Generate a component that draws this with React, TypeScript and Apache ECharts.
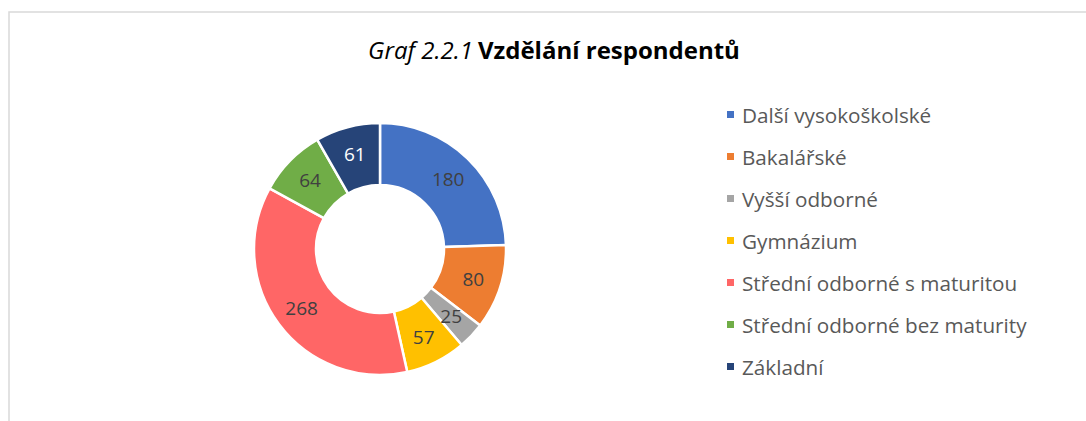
import React, { useEffect, useRef } from "react";
import * as echarts from "echarts";

const categories = [
  "Další vysokoškolské",
  "Bakalářské",
  "Vyšší odborné",
  "Gymnázium",
  "Střední odborné s maturitou",
  "Střední odborné bez maturity",
  "Základní",
];
const values = [180, 80, 25, 57, 268, 64, 61];
const colors = ["#4472C4", "#ED7D31", "#A5A5A5", "#FFC000", "#FF6666", "#70AD47", "#264478"];
const labelColors = ["#404040", "#404040", "#404040", "#404040", "#404040", "#404040", "#FFFFFF"];

export default function App() {
  const ref = useRef<HTMLDivElement>(null);
  useEffect(() => {
    document.body.style.margin = "0";
    const chart = echarts.init(ref.current!, null, { renderer: "svg" });
    const font = "Open Sans";
    chart.setOption({
      animation: false,
      backgroundColor: "#ffffff",
      title: {
        text: "{i|Graf 2.2.1} {b|Vzdělání respondentů}",
        left: 549,
        top: 32,
        textAlign: "center",
        textStyle: {
          rich: {
            i: { fontStyle: "italic", fontWeight: "normal", fontSize: 24, color: "#000", fontFamily: font },
            b: { fontWeight: "bold", fontSize: 24, color: "#000", fontFamily: font },
          },
        },
      },
      legend: {
        orient: "vertical",
        left: 720,
        top: 99,
        itemWidth: 9,
        itemHeight: 9,
        itemGap: 21,
        icon: "rect",
        textStyle: { fontSize: 20.7, lineHeight: 20, color: "#595959", fontFamily: font, padding: [0, 0, 0, 2] },
        data: categories,
      },
      graphic: [
        {
          type: "polyline",
          shape: { points: [[9, 421], [9, 12], [1086, 12]] },
          style: { stroke: "#D9D9D9", lineWidth: 1.5, fill: "none" },
        },
      ],
      series: [
        {
          type: "pie",
          center: [380, 249],
          radius: [64, 126],
          startAngle: 90,
          clockwise: true,
          itemStyle: { borderColor: "#ffffff", borderWidth: 2.5 },
          label: {
            show: true,
            position: "inside",
            formatter: "{c}",
            fontSize: 19,
            fontFamily: font,
          },
          labelLine: { show: false },
          emphasis: { disabled: true },
          data: categories.map((c, i) => ({
            name: c,
            value: values[i],
            itemStyle: { color: colors[i] },
            label: { color: labelColors[i] },
          })),
        },
      ],
    });
    return () => chart.dispose();
  }, []);
  return <div ref={ref} style={{ width: 1086, height: 421 }} />;
}
